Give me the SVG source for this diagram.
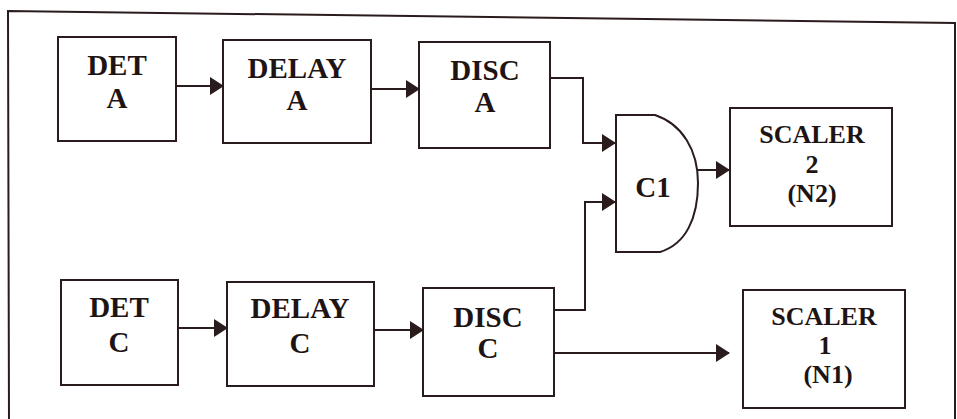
<svg xmlns="http://www.w3.org/2000/svg" width="957" height="419" viewBox="0 0 957 419">
<defs>
<marker id="arr" markerWidth="14" markerHeight="18" viewBox="0 0 14 18" refX="13" refY="9" orient="auto" markerUnits="userSpaceOnUse">
<path d="M0,0 L14,9 L0,18 Z" fill="#2a1c1c"/>
</marker>
<style>
.box{fill:none;stroke:#2a1c1c;stroke-width:2}
.ln{fill:none;stroke:#2a1c1c;stroke-width:2}
text{font-family:"Liberation Serif","Times New Roman",serif;font-weight:bold;font-size:29px;fill:#1e1414;text-anchor:middle}
text.s{font-size:26px}
</style>
</defs>
<rect width="957" height="419" fill="#ffffff"/>
<path class="ln" d="M9,422 L8,11 L955,23 L955,422"/>
<g id="detA"><rect class="box" x="58" y="37" width="118" height="104"/><text x="117" y="75">DET</text><text x="117" y="108">A</text></g>
<g id="delayA"><rect class="box" x="223" y="40" width="148" height="103"/><text x="297" y="78">DELAY</text><text x="297" y="110">A</text></g>
<g id="discA"><rect class="box" x="419" y="42" width="131" height="106"/><text x="485" y="80">DISC</text><text x="485" y="112">A</text></g>
<g id="c1"><path class="box" d="M616,115 H655 C682,124 698,150 698,183 C698,218 686,244 660,252 H616 Z"/><text x="653" y="197">C1</text></g>
<g id="scaler2"><rect class="box" x="730" y="108" width="162" height="118"/><text class="s" x="812" y="143">SCALER</text><text class="s" x="812" y="173">2</text><text class="s" x="812" y="202">(N2)</text></g>
<g id="detC"><rect class="box" x="61" y="280" width="117" height="105"/><text x="119" y="317">DET</text><text x="119" y="352">C</text></g>
<g id="delayC"><rect class="box" x="227" y="282" width="147" height="104"/><text x="300" y="318">DELAY</text><text x="300" y="353">C</text></g>
<g id="discC"><rect class="box" x="423" y="288" width="131" height="108"/><text x="488" y="327">DISC</text><text x="488" y="358">C</text></g>
<g id="scaler1"><rect class="box" x="743" y="290" width="162" height="118"/><text class="s" x="824" y="325">SCALER</text><text class="s" x="825" y="354">1</text><text class="s" x="828" y="383">(N1)</text></g>
<g id="connectors">
<path class="ln" d="M176,86 H223" marker-end="url(#arr)"/>
<path class="ln" d="M371,89 H419" marker-end="url(#arr)"/>
<path class="ln" d="M550,78 H583 V143 H615" marker-end="url(#arr)"/>
<path class="ln" d="M554,310 H585 V202 H615" marker-end="url(#arr)"/>
<path class="ln" d="M698,170 H729" marker-end="url(#arr)"/>
<path class="ln" d="M178,328 H227" marker-end="url(#arr)"/>
<path class="ln" d="M374,330 H423" marker-end="url(#arr)"/>
<path class="ln" d="M554,353 H729" marker-end="url(#arr)"/>
</g>
</svg>
